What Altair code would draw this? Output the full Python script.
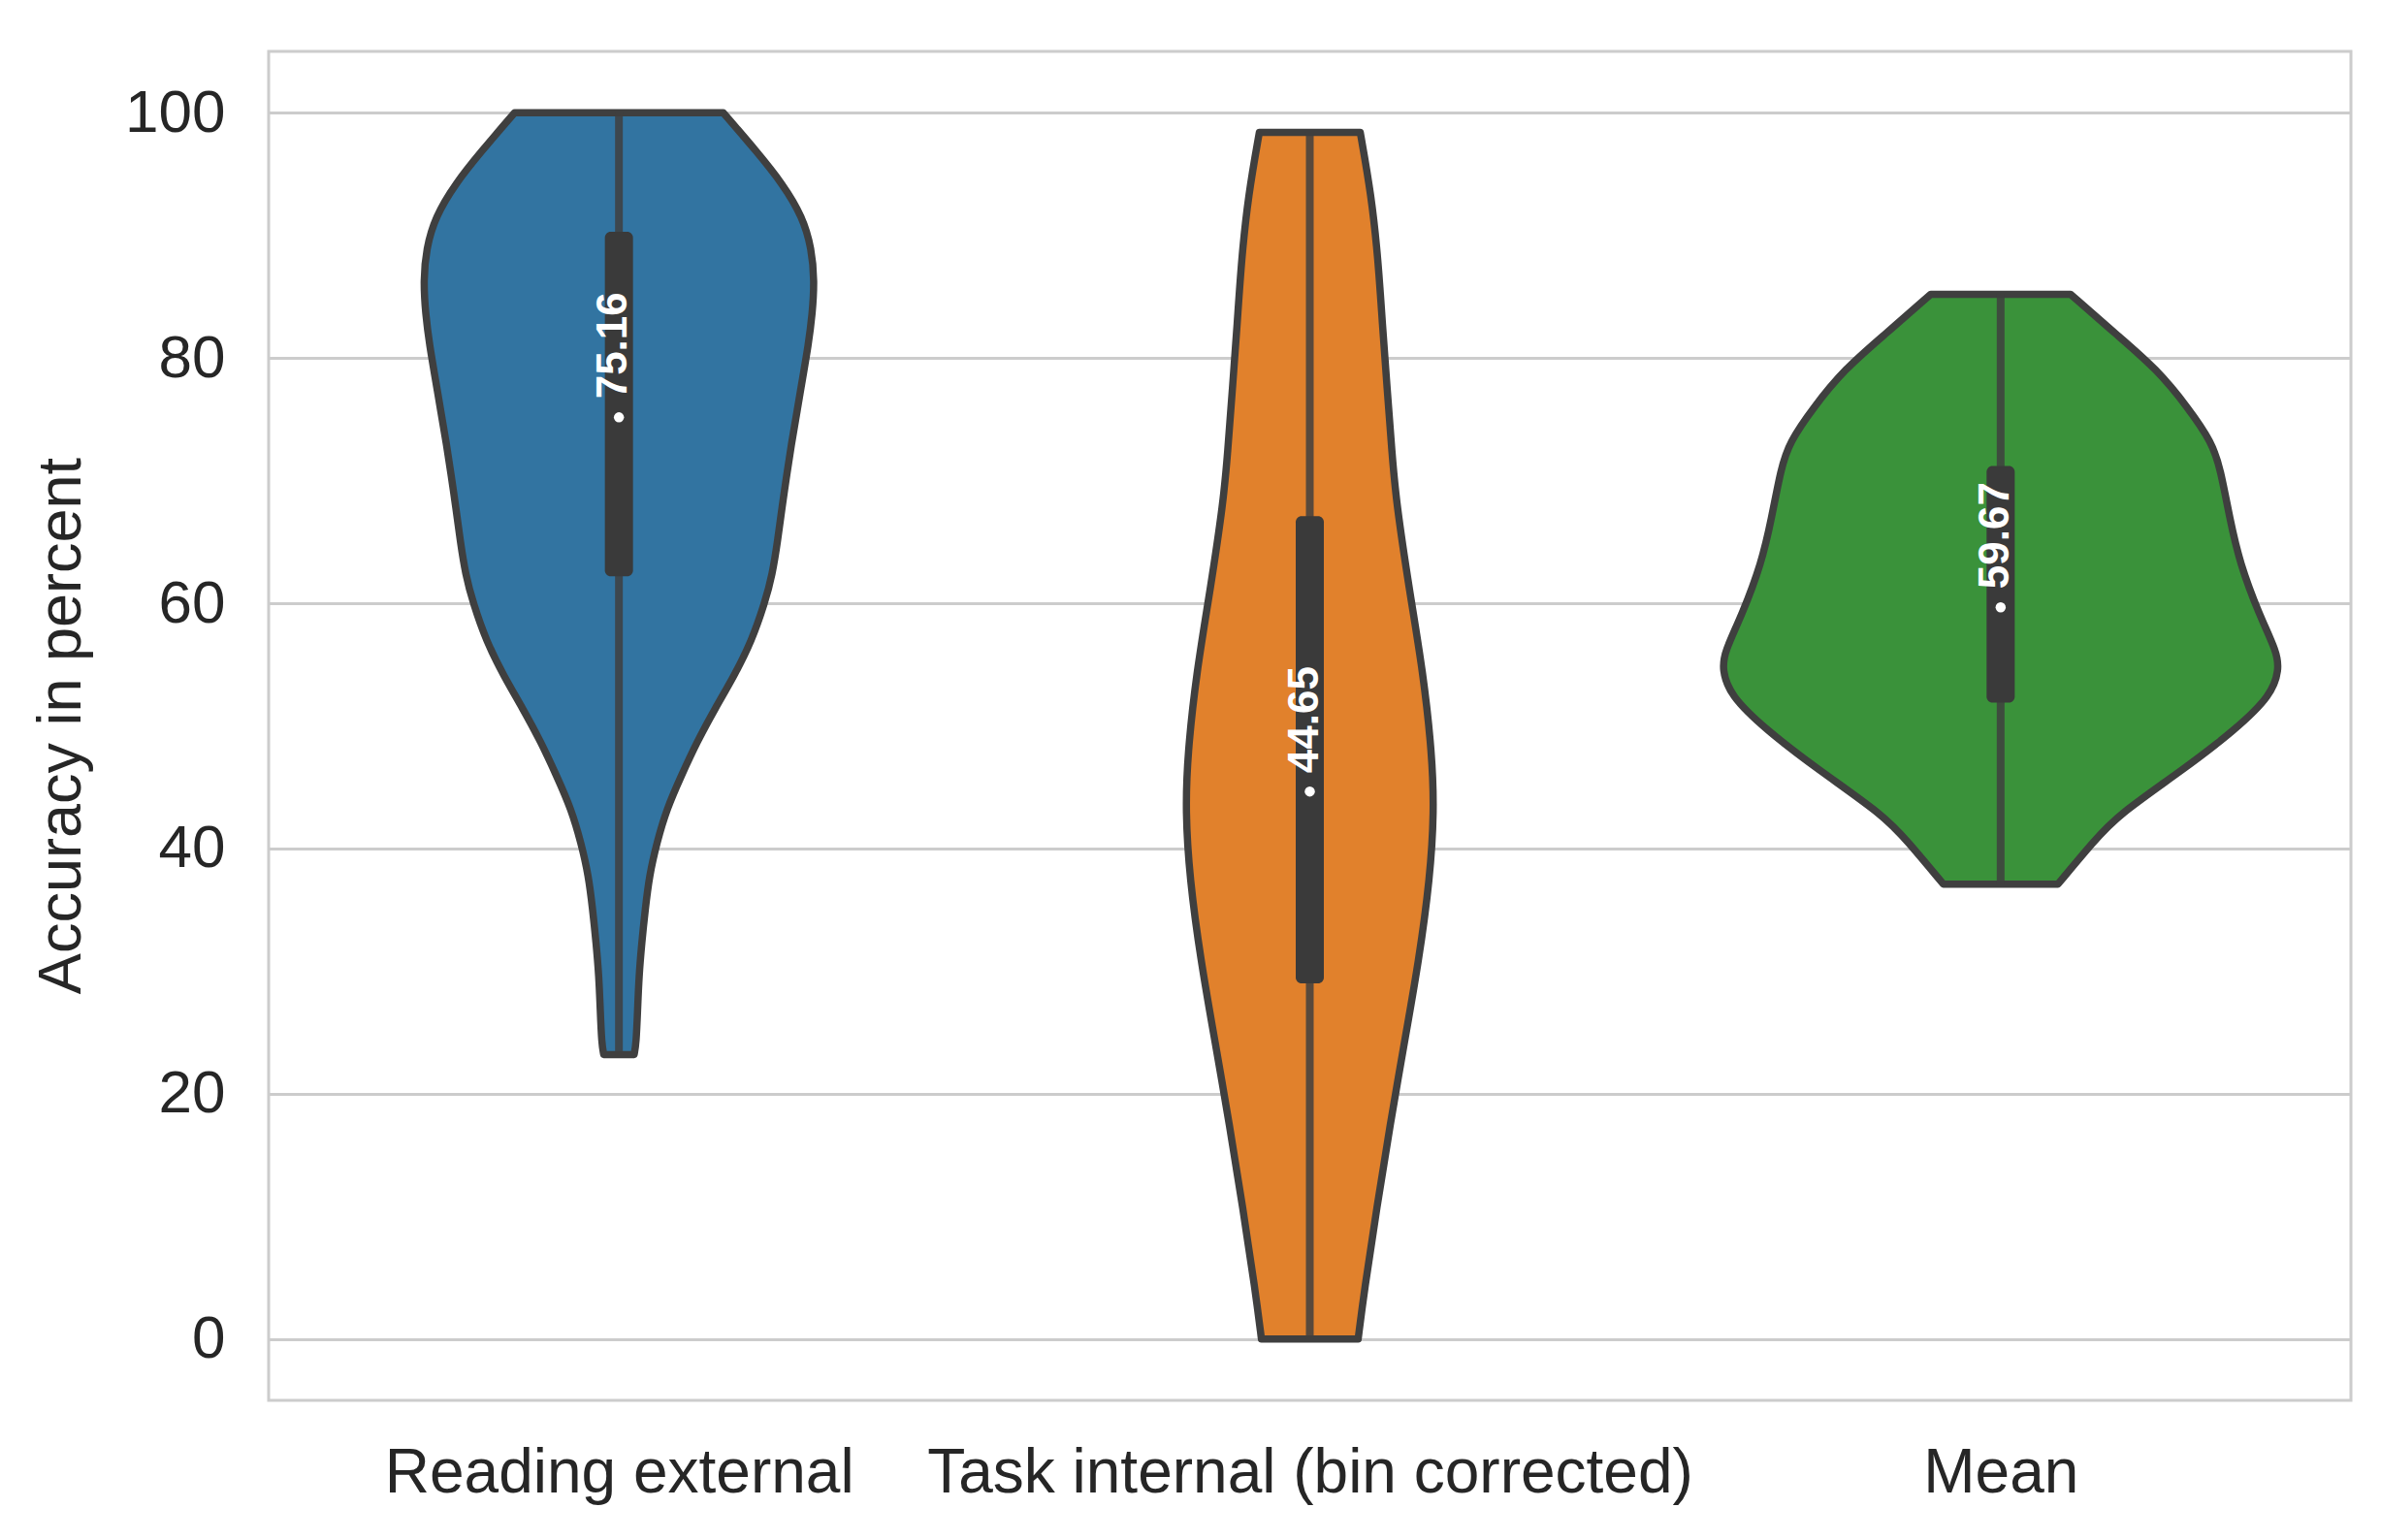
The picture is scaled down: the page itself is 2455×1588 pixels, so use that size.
import altair as alt
import pandas as pd

categories = ["Reading external", "Task internal (bin corrected)", "Mean"]
colors = ["#3274a1", "#e1812c", "#3a923a"]

# violin outlines: accuracy value -> half width (category units)
reading_y = [23.2, 24.1, 26.8, 29.6, 32.3, 35.0, 37.8, 40.5, 43.2, 45.9, 48.7, 51.4, 54.1, 56.9, 60.0,
             62.3, 65.2, 67.8, 70.5, 73.1, 75.7, 78.4, 81.0, 83.6, 86.3, 88.9, 91.5, 94.2, 96.8, 100.0]
reading_w = [0.022, 0.025, 0.027, 0.029, 0.033, 0.038, 0.044, 0.055, 0.069, 0.090, 0.113, 0.139, 0.167, 0.192, 0.211,
             0.222, 0.230, 0.236, 0.243, 0.250, 0.258, 0.266, 0.274, 0.280, 0.283, 0.279, 0.266, 0.237, 0.200, 0.151]

task_y = [0.0, 4.0, 10.7, 17.4, 24.2, 30.9, 37.6, 43.0, 47.7, 54.4, 61.1, 68.3, 72.2, 77.5, 82.8, 88.0, 93.3, 98.4]
task_w = [0.070, 0.079, 0.097, 0.116, 0.137, 0.158, 0.174, 0.180, 0.177, 0.164, 0.144, 0.125, 0.119, 0.112, 0.105, 0.099, 0.089, 0.073]

mean_y = [37.1, 40.6, 42.7, 46.5, 49.7, 52.5, 54.6, 56.0, 59.1, 63.3, 66.8, 71.0, 73.1, 75.9, 79.1, 81.85, 85.2]
mean_w = [0.083, 0.135, 0.169, 0.266, 0.340, 0.392, 0.403, 0.400, 0.374, 0.346, 0.332, 0.318, 0.306, 0.272, 0.226, 0.169, 0.101]

medians = [75.16, 44.65, 59.67]
median_labels = ["75.16", "44.65", "59.67"]
q1 = [62.2, 29.0, 51.9]
q3 = [90.3, 67.1, 71.2]
lows = [23.2, 0.0, 37.1]
highs = [100.0, 98.4, 85.2]

y_ticks = [0, 20, 40, 60, 80, 100]

rows = []
for i, (ys, ws) in enumerate([(reading_y, reading_w), (task_y, task_w), (mean_y, mean_w)]):
    for y, w in zip(ys, ws):
        rows.append({"cat": categories[i], "idx": i, "y": y, "half": w})
violin_df = pd.DataFrame(rows).sort_values(["idx", "y"])

stats_df = pd.DataFrame({
    "cat": categories,
    "idx": list(range(len(categories))),
    "median": medians,
    "label": median_labels,
    "q1": q1,
    "q3": q3,
    "low": lows,
    "high": highs,
})

label_expr = "[" + ",".join("'" + c + "'" for c in categories) + "][datum.value]"

xscale = alt.Scale(domain=[-0.5, 2.5], nice=False, zero=False)
yscale = alt.Scale(domain=[-5, 105], nice=False, zero=False)

FONT = "Liberation Sans"
TXT = "#262626"
OUT = "#3f3f3f"

xaxis = alt.Axis(values=[0, 1, 2], labelExpr=label_expr, grid=False, ticks=False, domain=False,
                 labelFontSize=64, labelFont=FONT, labelColor=TXT, labelPadding=43, labelLimit=0,
                 labelFlush=False, labelOverlap=False, labelBound=False, title=None)
yaxis = alt.Axis(values=y_ticks, grid=True, gridColor="#cccccc", gridWidth=3, ticks=False, domain=False,
                 labelFontSize=62, labelFont=FONT, labelColor=TXT, labelPadding=45,
                 title="Accuracy in percent", titleFontSize=63, titleFont=FONT, titleFontWeight="normal",
                 titleColor=TXT, titleAngle=270, titleX=-214, titleY=695, titleAlign="center",
                 titleBaseline="middle")

violins = alt.Chart(violin_df).transform_calculate(
    left="datum.idx - datum.half", right="datum.idx + datum.half"
).mark_area(orient="horizontal", interpolate="basis", stroke=OUT, strokeWidth=7.5,
            strokeJoin="round", opacity=1).encode(
    y=alt.Y("y:Q", scale=yscale, axis=yaxis),
    x=alt.X("left:Q", scale=xscale, axis=xaxis, stack=None),
    x2="right:Q",
    color=alt.Color("cat:N", scale=alt.Scale(domain=categories, range=colors), legend=None),
    detail="cat:N",
)

whiskers = alt.Chart(stats_df).mark_rule(color=OUT, strokeWidth=8, strokeOpacity=0.85).encode(
    x="idx:Q", y="low:Q", y2="high:Q"
)

boxes = alt.Chart(stats_df).mark_bar(color="#3a3a3a", width=29, cornerRadius=6).encode(
    x="idx:Q", y="q1:Q", y2="q3:Q"
)

dots = alt.Chart(stats_df).mark_point(filled=True, color="white", size=110, opacity=1, strokeWidth=0,
                                      shape="circle").encode(
    x="idx:Q", y="median:Q"
)

texts = alt.Chart(stats_df).mark_text(angle=270, align="left", baseline="middle", dx=19, dy=-5,
                                      font=FONT, fontSize=44, fontWeight="bold", color="white").encode(
    x="idx:Q", y="median:Q", text="label:N"
)

chart = alt.layer(violins, whiskers, boxes, dots, texts).properties(
    width=2147, height=1391,
    autosize=alt.AutoSizeParams(type="none"),
    padding={"left": 269, "top": 45, "right": 23, "bottom": 136},
    background="white",
).configure_view(stroke="#cccccc", strokeWidth=3)

chart.save("out.html", embed_options={"renderer": "svg", "actions": False})
